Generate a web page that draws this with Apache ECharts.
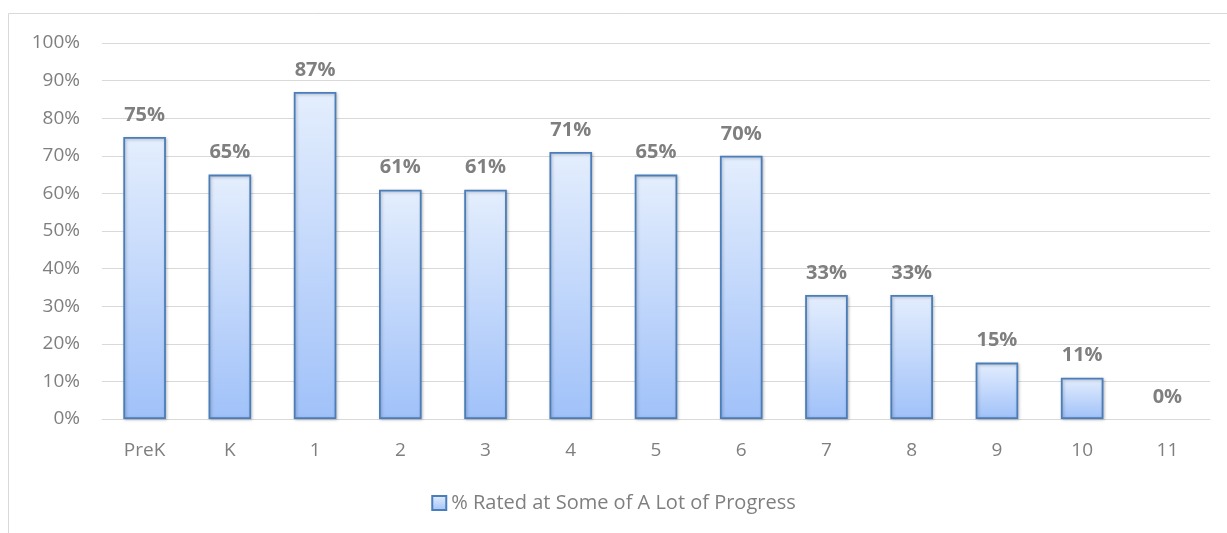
<!DOCTYPE html>
<html>
<head>
<meta charset="utf-8">
<script src="https://cdn.jsdelivr.net/npm/echarts@6/dist/echarts.min.js"></script>
<style>
  html, body { margin: 0; padding: 0; background: #fff; }
  #chart { width: 1227px; height: 533px; }
</style>
</head>
<body>
<div id="chart"></div>
<script>
// Grade levels and the share of students rated at some or a lot of progress
const grades = ['PreK', 'K', '1', '2', '3', '4', '5', '6', '7', '8', '9', '10', '11'];
const percentRated = [75, 65, 87, 61, 61, 71, 65, 70, 33, 33, 15, 11, 0];
const seriesName = '% Rated at Some of A Lot of Progress';

const FONT = '"Open Sans", "Noto Sans", sans-serif';
const GREY = '#7f7f7f';

const barFill = new echarts.graphic.LinearGradient(0, 0, 0, 1, [
  { offset: 0, color: '#e4eefd' },
  { offset: 1, color: '#a0c1f9' }
]);

// A zero-height bar shows only its label, no outline
const barData = percentRated.map(v => v === 0 ? { value: v, itemStyle: { borderWidth: 0, shadowBlur: 0 } } : v);

const chart = echarts.init(document.getElementById('chart'), null, { renderer: 'canvas' });
chart.setOption({
  animation: false,
  textStyle: { fontFamily: FONT },
  graphic: [{
    type: 'rect',
    shape: { x: 8.5, y: 13.5, width: 1230, height: 540 },
    style: { fill: 'none', stroke: '#d9d9d9', lineWidth: 1 },
    silent: true
  }],
  grid: { left: 102, right: 17, top: 43, bottom: 114 },
  legend: {
    bottom: 15,
    left: 'center',
    itemWidth: 14,
    itemHeight: 14,
    itemGap: 4,
    textStyle: { color: GREY, fontSize: 20, fontFamily: FONT },
    data: [{ name: seriesName, icon: 'rect' }]
  },
  xAxis: {
    type: 'category',
    data: grades,
    axisLine: { lineStyle: { color: '#d9d9d9', width: 1 } },
    axisTick: { show: false },
    axisLabel: { color: GREY, fontSize: 19, margin: 22, fontFamily: FONT }
  },
  yAxis: {
    type: 'value',
    min: 0,
    max: 100,
    interval: 10,
    axisLine: { show: false },
    axisTick: { show: false },
    axisLabel: { color: GREY, fontSize: 19, margin: 22, formatter: '{value}%', fontFamily: FONT },
    splitLine: { lineStyle: { color: '#d9d9d9', width: 1 } }
  },
  series: [{
    name: seriesName,
    type: 'bar',
    data: barData,
    barWidth: '50%',
    itemStyle: {
      color: barFill,
      borderColor: '#4a7ebb',
      borderWidth: 1.8,
      shadowColor: 'rgba(0,0,0,0.25)',
      shadowBlur: 3,
      shadowOffsetX: 1,
      shadowOffsetY: 1
    },
    label: {
      show: true,
      position: 'top',
      distance: 12,
      formatter: '{c}%',
      color: GREY,
      fontSize: 20,
      fontWeight: 'bold',
      fontFamily: FONT
    }
  }]
});
</script>
</body>
</html>
